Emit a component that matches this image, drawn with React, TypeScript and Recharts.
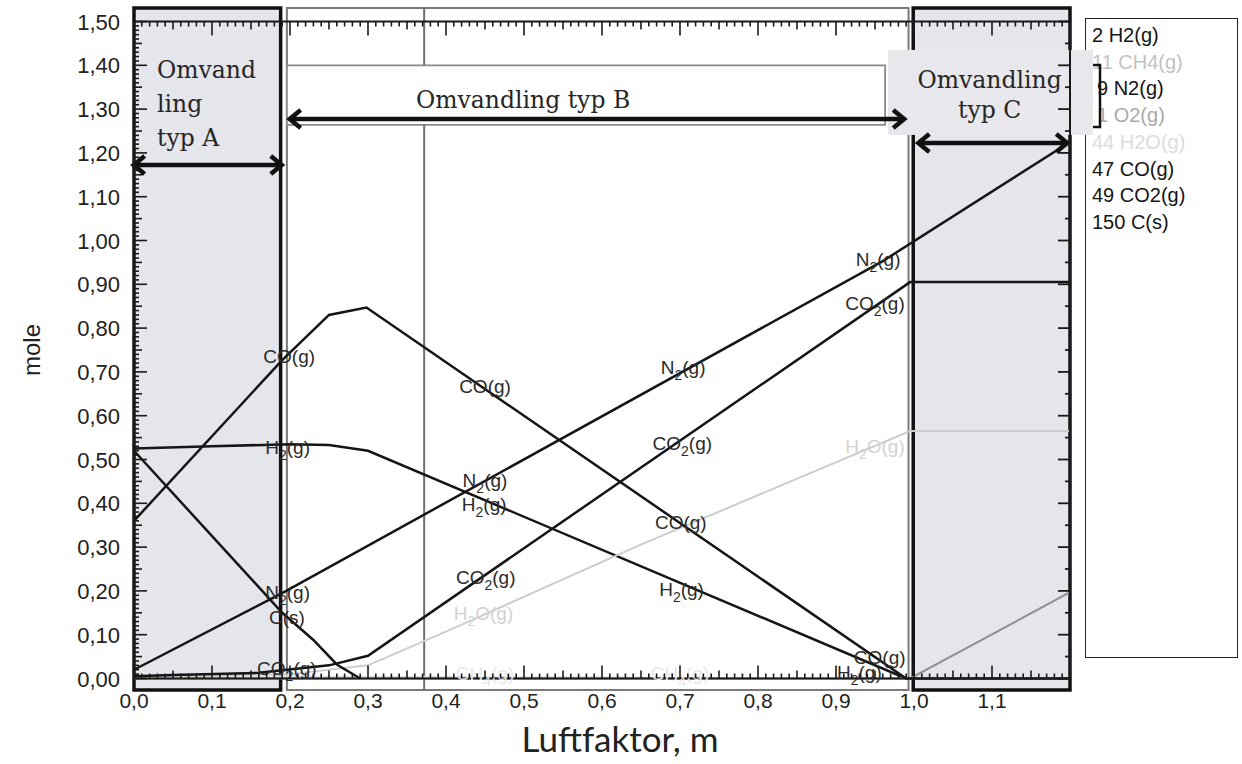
import React from "react";
import {
  LineChart,
  Line,
  XAxis,
  YAxis,
  ReferenceArea,
  ReferenceLine,
  ReferenceDot,
  Legend,
} from "recharts";

type Pt = { m: number; v: number };

// mole vs luftfaktor m
const h2Points: Pt[] = [
  { m: 0, v: 0.525 },
  { m: 0.1, v: 0.53 },
  { m: 0.2, v: 0.535 },
  { m: 0.25, v: 0.533 },
  { m: 0.3, v: 0.52 },
  { m: 0.99, v: 0 },
];
const ch4Points: Pt[] = [
  { m: 0, v: 0.006 },
  { m: 0.3, v: 0.004 },
  { m: 1.0, v: 0 },
  { m: 1.2, v: 0 },
];
const n2Points: Pt[] = [
  { m: 0, v: 0.02 },
  { m: 0.19, v: 0.195 },
  { m: 0.96, v: 0.953 },
  { m: 1.2, v: 1.225 },
];
const o2Points: Pt[] = [
  { m: 0, v: 0 },
  { m: 0.995, v: 0 },
  { m: 1.2, v: 0.197 },
];
const h2oPoints: Pt[] = [
  { m: 0, v: 0.003 },
  { m: 0.2, v: 0.01 },
  { m: 0.3, v: 0.03 },
  { m: 0.405, v: 0.111 },
  { m: 0.649, v: 0.305 },
  { m: 0.995, v: 0.565 },
  { m: 1.2, v: 0.565 },
];
const coPoints: Pt[] = [
  { m: 0, v: 0.36 },
  { m: 0.19, v: 0.727 },
  { m: 0.25, v: 0.83 },
  { m: 0.298, v: 0.847 },
  { m: 0.99, v: 0 },
  { m: 1.2, v: 0 },
];
const co2Points: Pt[] = [
  { m: 0, v: 0.005 },
  { m: 0.05, v: 0.008 },
  { m: 0.16, v: 0.013 },
  { m: 0.25, v: 0.03 },
  { m: 0.3, v: 0.052 },
  { m: 0.995, v: 0.905 },
  { m: 1.2, v: 0.905 },
];
const cPoints: Pt[] = [
  { m: 0, v: 0.52 },
  { m: 0.19, v: 0.15 },
  { m: 0.23, v: 0.088 },
  { m: 0.26, v: 0.032 },
  { m: 0.29, v: 0 },
];

const seriesData = [h2Points, ch4Points, n2Points, o2Points, h2oPoints, coPoints, co2Points, cPoints];
const seriesNames = ["2 H2(g)", "11 CH4(g)", "9 N2(g)", "1 O2(g)", "44 H2O(g)", "47 CO(g)", "49 CO2(g)", "150 C(s)"];
const seriesColors = ["#151515", "#e2e2e2", "#151515", "#8f8f8f", "#cdcdcd", "#151515", "#151515", "#151515"];
const legendColors = ["#151515", "#c2c2c2", "#151515", "#ababab", "#dcdcdc", "#151515", "#151515", "#151515"];
const legendIndent = [0, 0, 5, 5, 0, 0, 0, 0];

// where the curve names are printed
const labelCO: Pt[] = [{ m: 0.199, v: 0.734 }, { m: 0.45, v: 0.665 }, { m: 0.701, v: 0.355 }, { m: 0.956, v: 0.045 }];
const labelH2: Pt[] = [{ m: 0.197, v: 0.524 }, { m: 0.449, v: 0.394 }, { m: 0.702, v: 0.202 }, { m: 0.93, v: 0.012 }];
const labelN2: Pt[] = [{ m: 0.197, v: 0.195 }, { m: 0.45, v: 0.449 }, { m: 0.704, v: 0.707 }, { m: 0.954, v: 0.955 }];
const labelCO2: Pt[] = [{ m: 0.196, v: 0.02 }, { m: 0.451, v: 0.229 }, { m: 0.703, v: 0.535 }, { m: 0.95, v: 0.853 }];
const labelC: Pt[] = [{ m: 0.196, v: 0.136 }];
const labelH2O: Pt[] = [{ m: 0.448, v: 0.147 }, { m: 0.95, v: 0.528 }];
const labelCH4: Pt[] = [{ m: 0.45, v: 0.01 }, { m: 0.7, v: 0.01 }];

const curveLabels = [
  { parts: ["CO", "", "(g)"], color: "#2b2b2b", pts: labelCO },
  { parts: ["H", "2", "(g)"], color: "#2b2b2b", pts: labelH2 },
  { parts: ["N", "2", "(g)"], color: "#2b2b2b", pts: labelN2 },
  { parts: ["CO", "2", "(g)"], color: "#2b2b2b", pts: labelCO2 },
  { parts: ["C", "", "(s)"], color: "#2b2b2b", pts: labelC },
  { parts: ["H", "2", "O(g)"], color: "#d2d2d2", pts: labelH2O },
  { parts: ["CH", "4", "(g)"], color: "#e8e8e8", pts: labelCH4 },
];

const xMajor = [0, 0.1, 0.2, 0.3, 0.4, 0.5, 0.6, 0.7, 0.8, 0.9, 1.0, 1.1];
const yMajor = [0, 0.1, 0.2, 0.3, 0.4, 0.5, 0.6, 0.7, 0.8, 0.9, 1.0, 1.1, 1.2, 1.3, 1.4, 1.5];
const xMinor = Array.from({ length: 121 }, (_, i) => i / 100);
const yMinor = Array.from({ length: 151 }, (_, i) => i / 100);
const yRightTicks = Array.from({ length: 31 }, (_, i) => i / 20);

const tickFont = "'Liberation Sans', Arial, sans-serif";
const serif = "'DejaVu Serif', Georgia, serif";

const near = (v: number, step: number) => Math.abs(v / step - Math.round(v / step)) < 1e-6;
const fmtY = (v: number) => v.toFixed(2).replace(".", ",");
const fmtX = (v: number) => v.toFixed(1).replace(".", ",");
const isLabelled = (v: number, list: number[]) => list.some((t) => Math.abs(t - v) < 1e-6);

const LeftTick = (p: any) => {
  const v = p.payload.value;
  const len = near(v, 0.1) ? 13 : near(v, 0.05) ? 8 : 5;
  return (
    <g>
      <line x1={p.x} x2={p.x + len} y1={p.y} y2={p.y} stroke="#1a1a1a" strokeWidth={1.6} />
      {isLabelled(v, yMajor) && (
        <text x={p.x - 14} y={p.y + 8} textAnchor="end" fontFamily={tickFont} fontSize={22} fill="#222">
          {fmtY(v)}
        </text>
      )}
    </g>
  );
};

const BottomTick = (p: any) => {
  const v = p.payload.value;
  const len = near(v, 0.1) ? 13 : near(v, 0.05) ? 8 : 5;
  return (
    <g>
      <line x1={p.x} x2={p.x} y1={p.y} y2={p.y - len} stroke="#1a1a1a" strokeWidth={1.6} />
      {isLabelled(v, xMajor) && (
        <text x={p.x} y={p.y + 29} textAnchor="middle" fontFamily={tickFont} fontSize={21} fill="#222">
          {fmtX(v)}
        </text>
      )}
    </g>
  );
};

const TopTick = (p: any) => {
  const v = p.payload.value;
  const len = near(v, 0.1) ? 14 : near(v, 0.05) ? 8 : 5;
  return <line x1={p.x} x2={p.x} y1={p.y} y2={p.y + len} stroke="#1a1a1a" strokeWidth={1.6} />;
};

const RightTick = (p: any) => {
  const v = p.payload.value;
  const len = near(v, 0.1) ? 12 : 5;
  return <line x1={p.x} x2={p.x - len} y1={p.y} y2={p.y} stroke="#1a1a1a" strokeWidth={1.8} />;
};

const ChemLabel = ({ cx, cy, parts, color }: any) => (
  <text x={cx} y={cy + 5.5} textAnchor="middle" fontFamily={tickFont} fontSize={19} fill={color}>
    {parts[1] ? (
      <>
        {parts[0]}
        <tspan dy={6} fontSize={14}>
          {parts[1]}
        </tspan>
        <tspan dy={-6}>{parts[2]}</tspan>
      </>
    ) : (
      parts[0] + parts[2]
    )}
  </text>
);

const AnnoText = ({ x, y, lines, anchor, gap }: any) => (
  <text x={x} y={y} textAnchor={anchor} fontFamily={serif} fontSize={23.5} fill="#262626">
    {lines.map((l: string, i: number) => (
      <tspan key={i} x={x} dy={i === 0 ? 0 : gap}>
        {l}
      </tspan>
    ))}
  </text>
);

const DoubleArrow = (p: any) => {
  const { x1, y1, x2, y2 } = p;
  const h = 13;
  const w = 9;
  return (
    <g>
      <line x1={x1 + 2} y1={y1} x2={x2 - 2} y2={y2} stroke="#111" strokeWidth={4.5} />
      <polyline points={`${x1 + h},${y1 - w} ${x1 + 2},${y1} ${x1 + h},${y1 + w}`} fill="none" stroke="#111" strokeWidth={4.5} />
      <polyline points={`${x2 - h},${y2 - w} ${x2 - 2},${y2} ${x2 - h},${y2 + w}`} fill="none" stroke="#111" strokeWidth={4.5} />
    </g>
  );
};

// grey label box of "typ C" with the bracket at its right side
const CBox = (p: any) => {
  const { x, y, width, height } = p;
  const r = x + width;
  return (
    <g>
      <rect x={x} y={y} width={width} height={height} fill="#e7e7ec" />
      <polyline
        points={`${r},${y + 15} ${r + 7},${y + 15} ${r + 7},${y + height - 8} ${r},${y + height - 8}`}
        fill="none"
        stroke="#111"
        strokeWidth={2.5}
      />
    </g>
  );
};

const LegendBox = ({ payload }: any) => {
  const shown = seriesNames.filter((n) => (payload || []).some((e: any) => e.value === n));
  return (
    <div
      style={{
        boxSizing: "border-box",
        width: 153,
        height: 640,
        border: "1.5px solid #222",
        padding: "3px 0 0 6px",
        fontFamily: tickFont,
        fontSize: 20,
        lineHeight: "26.7px",
        textAlign: "left",
      }}
    >
      {shown.map((n) => {
        const i = seriesNames.indexOf(n);
        return (
          <div key={n} style={{ color: legendColors[i], paddingLeft: legendIndent[i], whiteSpace: "nowrap" }}>
            {n}
          </div>
        );
      })}
    </div>
  );
};

export default function App() {
  return (
    <div style={{ position: "absolute", left: 0, top: 0 }}>
      <LineChart width={1242} height={764} margin={{ top: 11.5, right: 162, bottom: 0.5, left: 0 }}>
        {/* region boxes */}
        <ReferenceArea x1={0.196} x2={0.993} y1={-0.026} y2={1.531} ifOverflow="visible" fill="#ffffff" fillOpacity={1} stroke="#7a7a7a" strokeWidth={2} />
        <ReferenceLine segment={[{ x: 0.372, y: -0.026 }, { x: 0.372, y: 1.264 }]} ifOverflow="visible" stroke="#6e6e6e" strokeWidth={2} />
        <ReferenceLine segment={[{ x: 0.372, y: 1.4 }, { x: 0.372, y: 1.531 }]} ifOverflow="visible" stroke="#6e6e6e" strokeWidth={2} />
        <ReferenceArea x1={0.196} x2={0.963} y1={1.264} y2={1.4} ifOverflow="visible" fill="#ffffff" fillOpacity={1} stroke="#8a8a8a" strokeWidth={1.8} />
        <ReferenceArea x1={0} x2={0.188} y1={-0.026} y2={1.531} ifOverflow="visible" fill="#e5e5ec" fillOpacity={1} stroke="#111" strokeWidth={3.5} />
        <ReferenceArea x1={0.999} x2={1.2} y1={-0.026} y2={1.531} ifOverflow="visible" fill="#e5e5ec" fillOpacity={1} stroke="#111" strokeWidth={3.5} />

        {seriesData.map((d, i) => (
          <Line
            key={seriesNames[i]}
            data={d}
            dataKey="v"
            name={seriesNames[i]}
            stroke={seriesColors[i]}
            strokeWidth={seriesColors[i] === "#151515" ? 2.5 : 2}
            dot={false}
            activeDot={false}
            isAnimationActive={false}
          />
        ))}
        <Line xAxisId="top" yAxisId="right" data={n2Points} dataKey="v" stroke="none" dot={false} legendType="none" isAnimationActive={false} />

        {curveLabels.flatMap((c, ci) =>
          c.pts.map((pt, i) => (
            <ReferenceDot
              key={`lab-${ci}-${i}`}
              x={pt.m}
              y={pt.v}
              r={0}
              ifOverflow="visible"
              shape={(s: any) => <ChemLabel cx={s.cx} cy={s.cy} parts={c.parts} color={c.color} />}
            />
          ))
        )}

        {/* "Omvandling" annotations */}
        <ReferenceArea x1={0.9667} x2={1.2295} y1={1.241} y2={1.435} ifOverflow="visible" shape={(p: any) => <CBox {...p} />} />
        <ReferenceDot x={0.0295} y={1.371} r={0} ifOverflow="visible" shape={(s: any) => <AnnoText x={s.cx} y={s.cy} lines={["Omvand", "ling", "typ A"]} anchor="start" gap={34} />} />
        <ReferenceDot x={0.3615} y={1.3025} r={0} ifOverflow="visible" shape={(s: any) => <AnnoText x={s.cx} y={s.cy} lines={["Omvandling typ B"]} anchor="start" gap={0} />} />
        <ReferenceDot x={1.097} y={1.348} r={0} ifOverflow="visible" shape={(s: any) => <AnnoText x={s.cx} y={s.cy} lines={["Omvandling", "typ C"]} anchor="middle" gap={30} />} />
        <ReferenceLine segment={[{ x: -0.003, y: 1.1724 }, { x: 0.192, y: 1.1724 }]} ifOverflow="visible" shape={(p: any) => <DoubleArrow {...p} />} />
        <ReferenceLine segment={[{ x: 0.197, y: 1.2774 }, { x: 0.99, y: 1.2774 }]} ifOverflow="visible" shape={(p: any) => <DoubleArrow {...p} />} />
        <ReferenceLine segment={[{ x: 1.003, y: 1.2226 }, { x: 1.199, y: 1.2226 }]} ifOverflow="visible" shape={(p: any) => <DoubleArrow {...p} />} />

        <XAxis
          dataKey="m"
          type="number"
          domain={[0, 1.2]}
          ticks={xMinor}
          interval={0}
          height={85}
          tickSize={0}
          tickMargin={0}
          tickLine={false}
          tick={BottomTick}
          axisLine={{ stroke: "#1a1a1a", strokeWidth: 2 }}
          label={{ value: "Luftfaktor, m", position: "insideBottom", offset: 12, dx: 18, fontSize: 35, fontFamily: "Lato, 'Open Sans', sans-serif", fill: "#222" }}
        />
        <XAxis
          xAxisId="top"
          orientation="top"
          dataKey="m"
          type="number"
          domain={[0, 1.2]}
          ticks={xMinor}
          interval={0}
          height={10}
          tickSize={0}
          tickMargin={0}
          tickLine={false}
          tick={TopTick}
          axisLine={{ stroke: "#1a1a1a", strokeWidth: 2 }}
        />
        <YAxis
          type="number"
          domain={[0, 1.5]}
          ticks={yMinor}
          interval={0}
          width={134}
          tickSize={0}
          tickMargin={0}
          tickLine={false}
          tick={LeftTick}
          axisLine={{ stroke: "#1a1a1a", strokeWidth: 2 }}
          label={{ value: "mole", angle: -90, position: "insideLeft", offset: 31, fontSize: 24, fontFamily: tickFont, fill: "#222", style: { textAnchor: "middle" } }}
        />
        <YAxis
          yAxisId="right"
          orientation="right"
          type="number"
          domain={[0, 1.5]}
          ticks={yRightTicks}
          interval={0}
          width={10}
          tickSize={0}
          tickMargin={0}
          tickLine={false}
          tick={RightTick}
          axisLine={{ stroke: "#1a1a1a", strokeWidth: 2 }}
        />
        <Legend
          layout="vertical"
          align="center"
          verticalAlign="middle"
          wrapperStyle={{ left: 1085, top: 18, width: 153, height: 640, zIndex: -1 }}
          content={(props: any) => <LegendBox payload={props.payload} />}
        />
      </LineChart>
    </div>
  );
}
